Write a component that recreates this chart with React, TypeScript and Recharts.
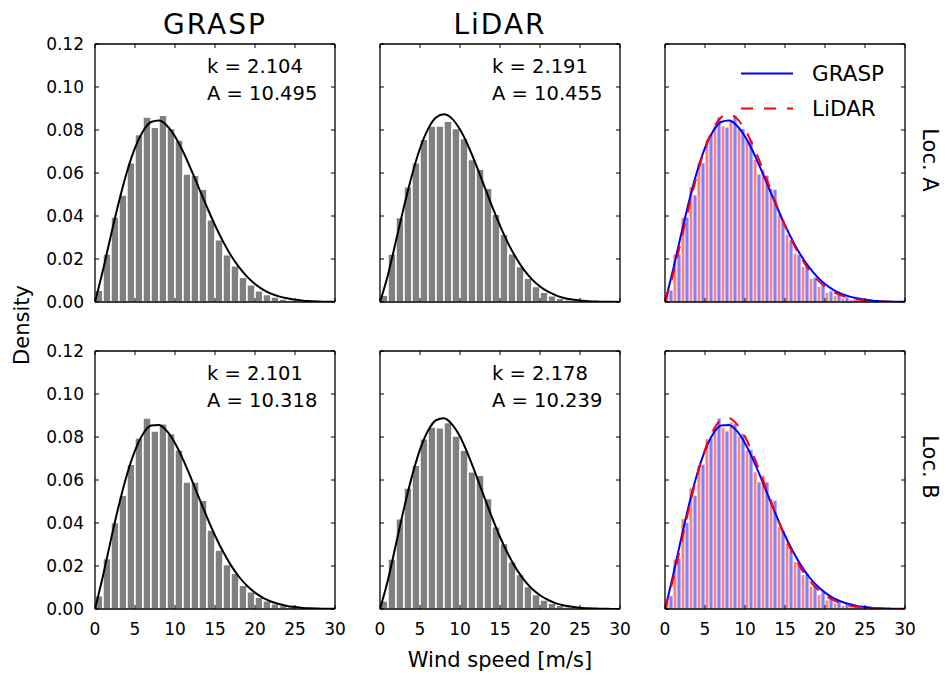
import React from 'react'
import { ComposedChart, Bar, Line, XAxis, YAxis, Legend } from 'recharts'

// histogram bins (left edge, 1 m/s wide)
const bins = [0, 1, 2, 3, 4, 5, 6, 7, 8, 9, 10, 11, 12, 13, 14, 15, 16, 17, 18, 19, 20, 21, 22, 23, 24, 25, 26, 27, 28, 29]

// densities
const graspA = [0.0055, 0.0223, 0.0395, 0.0498, 0.0648, 0.0779, 0.0861, 0.0813, 0.0869, 0.0807, 0.0753, 0.0595, 0.059, 0.0524, 0.0382, 0.0289, 0.022, 0.0169, 0.0115, 0.008, 0.0052, 0.0035, 0.0023, 0.0014, 0.0009, 0.0006, 0.0004, 0.0002, 0.0001, 0.0001]
const lidarA = [0.0031, 0.0223, 0.0393, 0.0536, 0.0648, 0.0757, 0.0819, 0.0819, 0.0841, 0.0807, 0.076, 0.0663, 0.0618, 0.0529, 0.0408, 0.0315, 0.0225, 0.0165, 0.011, 0.0072, 0.0045, 0.0029, 0.0018, 0.0011, 0.0007, 0.0004, 0.0003, 0.0002, 0.0001, 0.0001]
const graspB = [0.0062, 0.0235, 0.0402, 0.0529, 0.0673, 0.0795, 0.0888, 0.0828, 0.0862, 0.0816, 0.0741, 0.0591, 0.0591, 0.0506, 0.0367, 0.0274, 0.0207, 0.0166, 0.011, 0.008, 0.0055, 0.0038, 0.0025, 0.0016, 0.001, 0.0006, 0.0004, 0.0002, 0.0001, 0.0001]
const lidarB = [0.0037, 0.0232, 0.042, 0.0563, 0.0669, 0.0792, 0.0846, 0.0843, 0.0867, 0.0805, 0.0738, 0.0638, 0.0622, 0.0514, 0.0382, 0.0305, 0.022, 0.016, 0.0105, 0.0068, 0.0042, 0.0027, 0.0017, 0.001, 0.0006, 0.0004, 0.0002, 0.0001, 0.0001, 0]

// fitted Weibull curves, read at whole m/s
const fitX = [0, 1, 2, 3, 4, 5, 6, 7, 8, 9, 10, 11, 12, 13, 14, 15, 16, 17, 18, 19, 20, 21, 22, 23, 24, 25, 26, 27, 28, 29, 30]
const graspAFit = [0, 0.0149, 0.0312, 0.0468, 0.0606, 0.0717, 0.0794, 0.0837, 0.0844, 0.082, 0.077, 0.07, 0.0617, 0.0529, 0.0441, 0.0357, 0.0282, 0.0216, 0.0162, 0.0118, 0.0084, 0.0058, 0.0039, 0.0026, 0.0017, 0.0011, 0.0006, 0.0004, 0.0002, 0.0001, 0.0001]
const lidarAFit = [0, 0.0127, 0.0285, 0.0444, 0.0591, 0.0714, 0.0804, 0.0858, 0.0873, 0.0853, 0.0802, 0.0728, 0.0639, 0.0542, 0.0446, 0.0355, 0.0274, 0.0206, 0.0149, 0.0105, 0.0072, 0.0048, 0.0031, 0.0019, 0.0012, 0.0007, 0.0004, 0.0002, 0.0001, 0.0001, 0]
const graspBFit = [0, 0.0155, 0.0324, 0.0485, 0.0626, 0.0737, 0.0814, 0.0853, 0.0856, 0.0827, 0.0771, 0.0696, 0.0609, 0.0517, 0.0427, 0.0342, 0.0267, 0.0203, 0.015, 0.0108, 0.0076, 0.0052, 0.0035, 0.0023, 0.0014, 0.0009, 0.0005, 0.0003, 0.0002, 0.0001, 0.0001]
const lidarBFit = [0, 0.0136, 0.0302, 0.0468, 0.0618, 0.0741, 0.0829, 0.0878, 0.0887, 0.0859, 0.0802, 0.0719, 0.0624, 0.0524, 0.0426, 0.0335, 0.0256, 0.0189, 0.0136, 0.0094, 0.0064, 0.0042, 0.0026, 0.0016, 0.001, 0.0006, 0.0003, 0.0002, 0.0001, 0, 0]

const xTicks = [0, 5, 10, 15, 20, 25, 30]
const yTicks = [0, 0.02, 0.04, 0.06, 0.08, 0.1, 0.12]

const fitParams = [
  ['k = 2.104', 'A = 10.495'],
  ['k = 2.191', 'A = 10.455'],
  ['k = 2.101', 'A = 10.318'],
  ['k = 2.178', 'A = 10.239'],
]

const FONT = '"DejaVu Sans", sans-serif'
const FRAME_W = 240
const FRAME_H = 258
const colLefts = [95, 380, 665]
const rowTops = [44, 351]

const binRows = bins.map((b, i) => ({
  bin: b,
  graspA: graspA[i],
  lidarA: lidarA[i],
  graspB: graspB[i],
  lidarB: lidarB[i],
}))
const fitRowsA = fitX.map((x, i) => ({ x, grasp: graspAFit[i], lidar: lidarAFit[i] }))
const fitRowsB = fitX.map((x, i) => ({ x, grasp: graspBFit[i], lidar: lidarBFit[i] }))

type BarSpec = { key: string; color: string; sw: number }
type LineSpec = { key: string; name: string; color: string; dash?: string }

const axisLine = { stroke: '#000', strokeWidth: 1.3 }
const tickLine = { stroke: '#000', strokeWidth: 1 }
const tickText = { fontSize: 17, fill: '#000', fontFamily: FONT }
const noLabel = () => <g />

function FitLegend({ lines }: { lines: LineSpec[] }) {
  return (
    <div style={{ fontFamily: FONT, fontSize: 21.5, color: '#000' }}>
      {lines.map((l) => (
        <div key={l.key} style={{ display: 'flex', alignItems: 'center', height: 35 }}>
          <svg width={52} height={35}>
            <line x1={0} x2={52} y1={17.5} y2={17.5} stroke={l.color} strokeWidth={2} strokeDasharray={l.dash} />
          </svg>
          <span style={{ marginLeft: 19 }}>{l.name}</span>
        </div>
      ))}
    </div>
  )
}

function Panel({ col, row, fitRows, bars, lines, legend }: {
  col: number; row: number; fitRows: any[]; bars: BarSpec[]; lines: LineSpec[]; legend?: boolean
}) {
  // axes of zero size are not drawn by recharts, so frame-only axes get 1px
  const yW = col === 0 ? 60 : 1
  const xH = row === 1 ? 34 : 1
  const m = { top: 10, right: 14, bottom: 10, left: 12 }
  const chartTop = rowTops[row] - m.top - 1
  const chartLeft = colLefts[col] - yW - m.left
  return (
    <div style={{ position: 'absolute', left: chartLeft, top: chartTop }}>
      <ComposedChart
        width={m.left + yW + FRAME_W + 1 + m.right}
        height={m.top + 1 + FRAME_H + xH + m.bottom}
        data={binRows}
        margin={m}
        barCategoryGap={0}
        barGap={0}
      >
        {bars.map((b) => (
          <Bar
            key={b.key} xAxisId="bins" yAxisId="left" dataKey={b.key} fill={b.color}
            stroke="#fff" strokeWidth={b.sw} legendType="none" isAnimationActive={false}
          />
        ))}
        {lines.map((l) => (
          <Line
            key={l.key} xAxisId="num" yAxisId="left" data={fitRows} dataKey={l.key} name={l.name}
            type="monotone" dot={false} activeDot={false} stroke={l.color} strokeWidth={2}
            strokeDasharray={l.dash} isAnimationActive={false}
          />
        ))}
        {/* invisible series tied to the top and right frame axes */}
        <Line
          xAxisId="top" yAxisId="right" data={fitRows} dataKey={lines[0].key} stroke="none"
          dot={false} activeDot={false} legendType="none" isAnimationActive={false}
        />
        <XAxis
          xAxisId="num" type="number" dataKey="x" domain={[0, 30]} ticks={xTicks} allowDataOverflow
          height={xH} tickSize={-4} tickMargin={18} interval={0}
          tick={row === 1 ? tickText : noLabel} axisLine={axisLine} tickLine={tickLine}
        />
        <XAxis xAxisId="bins" dataKey="bin" type="category" hide height={0} />
        <XAxis
          xAxisId="top" orientation="top" type="number" dataKey="x" domain={[0, 30]} ticks={xTicks} allowDataOverflow
          height={1} tickSize={-4} interval={0} tick={noLabel} axisLine={axisLine} tickLine={tickLine}
        />
        <YAxis
          yAxisId="left" type="number" domain={[0, 0.12]} ticks={yTicks} allowDataOverflow
          width={yW} tickSize={-4} tickMargin={15} interval={0}
          tickFormatter={(v: number) => v.toFixed(2)}
          tick={col === 0 ? tickText : noLabel} axisLine={axisLine} tickLine={tickLine}
        />
        <YAxis
          yAxisId="right" orientation="right" type="number" domain={[0, 0.12]} ticks={yTicks} allowDataOverflow
          width={1} tickSize={-4} interval={0} tick={noLabel} axisLine={axisLine} tickLine={tickLine}
        />
        {legend && (
          <Legend
            layout="horizontal" verticalAlign="middle" align="center"
            wrapperStyle={{ left: 741 - chartLeft, top: 73 - 17.5 - chartTop, width: 170 }}
            content={() => <FitLegend lines={lines} />}
          />
        )}
      </ComposedChart>
    </div>
  )
}

const gray = '#808080'
const blue = '#0000ff'
const red = '#ff0000'

export default function App() {
  const text = { fontFamily: FONT, fill: '#000' }
  return (
    <div style={{ position: 'relative', width: 948, height: 675, background: '#fff' }}>
      <style>{'body{margin:0}'}</style>

      <Panel col={0} row={0} fitRows={fitRowsA} bars={[{ key: 'graspA', color: gray, sw: 1.5 }]} lines={[{ key: 'grasp', name: 'GRASP', color: '#000' }]} />
      <Panel col={1} row={0} fitRows={fitRowsA} bars={[{ key: 'lidarA', color: gray, sw: 1.5 }]} lines={[{ key: 'lidar', name: 'LiDAR', color: '#000' }]} />
      <Panel
        col={2} row={0} fitRows={fitRowsA} legend
        bars={[{ key: 'lidarA', color: '#ff8080', sw: 0.8 }, { key: 'graspA', color: '#8080ff', sw: 0.8 }]}
        lines={[{ key: 'grasp', name: 'GRASP', color: blue }, { key: 'lidar', name: 'LiDAR', color: red, dash: '12 11' }]}
      />
      <Panel col={0} row={1} fitRows={fitRowsB} bars={[{ key: 'graspB', color: gray, sw: 1.5 }]} lines={[{ key: 'grasp', name: 'GRASP', color: '#000' }]} />
      <Panel col={1} row={1} fitRows={fitRowsB} bars={[{ key: 'lidarB', color: gray, sw: 1.5 }]} lines={[{ key: 'lidar', name: 'LiDAR', color: '#000' }]} />
      <Panel
        col={2} row={1} fitRows={fitRowsB}
        bars={[{ key: 'lidarB', color: '#ff8080', sw: 0.8 }, { key: 'graspB', color: '#8080ff', sw: 0.8 }]}
        lines={[{ key: 'grasp', name: 'GRASP', color: blue }, { key: 'lidar', name: 'LiDAR', color: red, dash: '12 11' }]}
      />

      <svg width={948} height={675} style={{ position: 'absolute', left: 0, top: 0, pointerEvents: 'none' }}>
        <text x={215} y={34} fontSize={28} letterSpacing={2} textAnchor="middle" {...text}>GRASP</text>
        <text x={500} y={34} fontSize={28} letterSpacing={2} textAnchor="middle" {...text}>LiDAR</text>

        {fitParams.map(([k, a], i) => {
          const x = colLefts[i % 2] + 112
          const y = rowTops[Math.floor(i / 2)] + 29
          return (
            <g key={k + a}>
              <text x={x} y={y} fontSize={19.5} {...text}>{k}</text>
              <text x={x} y={y + 27} fontSize={19.5} {...text}>{a}</text>
            </g>
          )
        })}

        <text x={500} y={667} fontSize={21} textAnchor="middle" {...text}>Wind speed [m/s]</text>
        <text transform="translate(29,325) rotate(-90)" fontSize={21} textAnchor="middle" {...text}>Density</text>
        <text transform="translate(923,160) rotate(90)" fontSize={21} textAnchor="middle" {...text}>Loc. A</text>
        <text transform="translate(923,467) rotate(90)" fontSize={21} textAnchor="middle" {...text}>Loc. B</text>
      </svg>
    </div>
  )
}
